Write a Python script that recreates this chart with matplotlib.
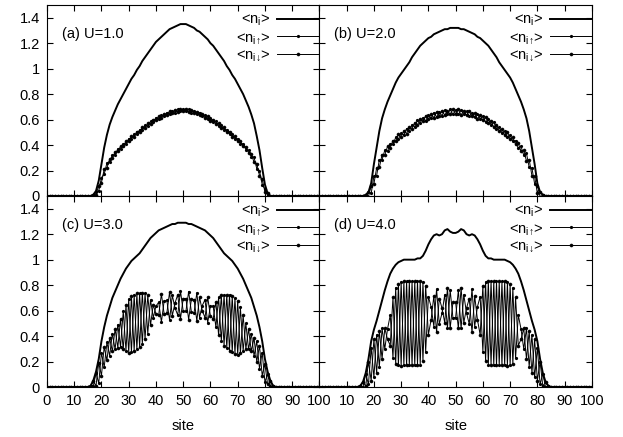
import numpy as np
import matplotlib.pyplot as plt

plt.rcParams['font.family'] = ['Liberation Sans', 'DejaVu Sans']
plt.rcParams['mathtext.fontset'] = 'custom'
plt.rcParams['mathtext.rm'] = 'Liberation Sans'
plt.rcParams['mathtext.it'] = 'Liberation Sans:italic'
plt.rcParams['font.size'] = 10

site = np.arange(101)

# <n_i>, one value per site 0..100
n_a = [0.0]*17 + [0.01, 0.04, 0.12, 0.25, 0.38, 0.48, 0.56, 0.62, 0.67, 0.72,
                  0.76, 0.80, 0.84, 0.88, 0.92, 0.95, 0.99, 1.02, 1.06, 1.09,
                  1.12, 1.15, 1.18, 1.21, 1.23, 1.25, 1.27, 1.29, 1.31, 1.32,
                  1.33, 1.34, 1.35,
                  1.35, 1.35, 1.34, 1.33, 1.32, 1.30, 1.29, 1.27, 1.25, 1.23,
                  1.20, 1.18, 1.15, 1.12, 1.09, 1.06, 1.02, 0.99, 0.95, 0.92,
                  0.88, 0.84, 0.80, 0.75, 0.70, 0.64, 0.57, 0.47, 0.36, 0.22,
                  0.09, 0.02, 0.0] + [0.0]*18
n_b = [0.0]*17 + [0.01, 0.03, 0.10, 0.25, 0.38, 0.51, 0.61, 0.68, 0.74, 0.79,
                  0.84, 0.89, 0.93, 0.96, 0.99, 1.02, 1.05, 1.09, 1.12, 1.15,
                  1.18, 1.20, 1.22, 1.24, 1.25, 1.27, 1.28, 1.29, 1.30, 1.31,
                  1.31, 1.32, 1.32,
                  1.32, 1.32, 1.31, 1.31, 1.30, 1.29, 1.28, 1.27, 1.25, 1.24,
                  1.22, 1.20, 1.18, 1.15, 1.12, 1.09, 1.05, 1.02, 0.99, 0.96,
                  0.93, 0.89, 0.84, 0.79, 0.74, 0.68, 0.61, 0.51, 0.38, 0.25,
                  0.10, 0.03, 0.01] + [0.0]*18
n_c = [0.0]*16 + [0.01, 0.05, 0.12, 0.22, 0.36, 0.47, 0.56, 0.63, 0.70, 0.75,
                  0.80, 0.85, 0.89, 0.93, 0.96, 0.99, 1.01, 1.03, 1.05, 1.08,
                  1.11, 1.14, 1.17, 1.19, 1.21, 1.23, 1.24, 1.25, 1.26, 1.27,
                  1.28, 1.28, 1.29, 1.29,
                  1.29, 1.29, 1.28, 1.28, 1.27, 1.26, 1.25, 1.24, 1.23, 1.21,
                  1.19, 1.17, 1.14, 1.11, 1.08, 1.05, 1.03, 1.01, 0.99, 0.96,
                  0.93, 0.89, 0.85, 0.80, 0.75, 0.70, 0.63, 0.56, 0.47, 0.36,
                  0.22, 0.12, 0.05, 0.01] + [0.0]*17
n_d = [0.0]*15 + [0.01, 0.04, 0.11, 0.22, 0.36, 0.45, 0.52, 0.60, 0.68, 0.76,
                  0.83, 0.89, 0.93, 0.96, 0.98, 0.99, 1.00, 1.00, 1.00, 1.00,
                  1.00, 1.01, 1.01, 1.03, 1.07, 1.12, 1.16, 1.19, 1.20, 1.19,
                  1.20, 1.23, 1.24, 1.22, 1.21,
                  1.21, 1.22, 1.24, 1.23, 1.20, 1.19, 1.20, 1.19, 1.16, 1.12,
                  1.07, 1.03, 1.01, 1.01, 1.00, 1.00, 1.00, 1.00, 1.00, 0.99,
                  0.98, 0.96, 0.93, 0.89, 0.83, 0.76, 0.68, 0.60, 0.52, 0.45,
                  0.36, 0.22, 0.11, 0.04, 0.01] + [0.0]*16

# local spin sz = (<n_i up> - <n_i down>) / 2
sz_a = [0.0]*18 + [0.01, -0.02, 0.02, -0.02, 0.02, -0.01,
                   0.01, -0.01, 0.01, -0.01, 0.01, -0.01, 0.01, -0.01, 0.01, -0.01,
                   0.01, -0.01, 0.01, -0.01, 0.01, -0.01, 0.01, -0.01, 0.01, -0.01,
                   0.01, -0.01, 0.01, -0.01, 0.01, -0.01, 0.01, -0.01, 0.01, -0.01,
                   0.01, -0.01, 0.01, -0.01, 0.01, -0.01, 0.01, -0.01, 0.01, -0.01,
                   0.01, -0.01, 0.01, -0.01, 0.01, -0.01, 0.01, -0.01, 0.01, -0.01,
                   0.01, -0.01, 0.02, -0.02, 0.02, -0.02, 0.01, -0.01] + [0.0]*19
sz_b = [0.0]*18 + [0.02, -0.03, 0.03, -0.03, 0.03, -0.02, 0.02, -0.02, 0.015,
                   -0.015, 0.015, -0.02, 0.015, -0.015, 0.02, -0.015, 0.015, -0.015, 0.02,
                   -0.015, 0.015, -0.02, 0.015, -0.015, 0.02, -0.02, 0.015, -0.02, 0.02,
                   -0.015, 0.02, -0.02, 0.015, -0.02, 0.02, -0.015, 0.015, -0.02, 0.015,
                   -0.015, 0.02, -0.015, 0.015, -0.02, 0.015, -0.015, 0.02, -0.015, 0.015,
                   -0.015, 0.015, -0.02, 0.015, -0.015, 0.015,
                   -0.02, 0.02, -0.02, 0.03, -0.03, 0.03, -0.03, 0.03, -0.02] + [0.0]*19
sz_c = [0.0]*17 + [-0.02, 0.05, -0.08, 0.09, -0.08, 0.07, -0.07, 0.07, -0.08, 0.09,
                   -0.11, 0.15, -0.18, 0.21, -0.22, 0.22, -0.22, 0.21, -0.20, 0.18,
                   -0.15, 0.10, -0.05, 0.03, 0.05, -0.11, 0.05, 0.05, -0.11, 0.08,
                   -0.02, -0.08, 0.11, -0.05, -0.05, 0.11, -0.05, -0.05, 0.11, -0.08,
                   0.02, 0.07, -0.10, 0.04, 0.05, -0.10, 0.15, -0.18, 0.20, -0.21,
                   0.22, -0.22, 0.22, -0.21, 0.18, -0.14, 0.10, -0.08, 0.07, -0.07,
                   0.08, -0.09, 0.09, -0.07, 0.04, -0.02] + [0.0]*18
sz_d = [0.0]*16 + [-0.02, 0.05, -0.09, 0.13, -0.15, 0.15, -0.14, 0.12, -0.08, 0.04,
                   0.12, -0.24, 0.30, -0.32, 0.33, -0.33, 0.33, -0.33, 0.33, -0.33,
                   0.33, -0.33, 0.31, -0.26, 0.15, 0.05, -0.12, 0.17, -0.10, -0.02,
                   0.11, -0.16, 0.15, -0.06, -0.06, 0.15, -0.16, 0.11, -0.02, -0.10,
                   0.17, -0.12, 0.05, 0.15, -0.26, 0.31, -0.33, 0.33, -0.33, 0.33,
                   -0.33, 0.33, -0.33, 0.33, -0.32, 0.30, -0.24, 0.12, 0.04, -0.08,
                   0.12, -0.14, 0.15, -0.15, 0.13, -0.09, 0.05, -0.02] + [0.0]*17

titles = ['(a) U=1.0', '(b) U=2.0', '(c) U=3.0', '(d) U=4.0']
xticks = [0, 10, 20, 30, 40, 50, 60, 70, 80, 90, 100]
yticks = [0, 0.2, 0.4, 0.6, 0.8, 1, 1.2, 1.4]

fig, axes = plt.subplots(2, 2, figsize=(6.23, 4.37), dpi=100)
fig.subplots_adjust(left=0.0754, right=0.950, top=0.9886, bottom=0.1144,
                    wspace=0, hspace=0)

data = [(n_a, sz_a), (n_b, sz_b), (n_c, sz_c), (n_d, sz_d)]
for k, ax in enumerate(axes.flat):
    n = np.array(data[k][0])
    sz = np.array(data[k][1])
    up = n/2 + sz
    dn = n/2 - sz
    ax.plot(site, n, color='black', lw=1.4, label=r'<n$_\mathregular{i}$>')
    ax.plot(site, up, color='black', lw=0.7, marker='o', ms=1.3,
            label=r'<n$_\mathregular{i↑}$>')
    ax.plot(site, dn, color='black', lw=0.7, marker='o', ms=2.2, mew=0.4,
            label=r'<n$_\mathregular{i↓}$>')
    ax.set_xlim(0, 100)
    ax.set_ylim(0, 1.5)
    ax.set_xticks(xticks)
    ax.set_yticks(yticks)
    ax.tick_params(direction='in', top=True, right=True, length=4, width=0.8,
                   labelsize=10.5, pad=5)
    ax.text(0.055, 0.85, titles[k], transform=ax.transAxes, va='center',
            fontsize=10.5)
    ax.legend(loc='upper right', bbox_to_anchor=(1.0, 0.96), frameon=False,
              markerfirst=False, borderaxespad=0, borderpad=0,
              handlelength=2.9, handletextpad=0.45, labelspacing=0.15,
              fontsize=10.5)
    col = k % 2
    row = k // 2
    if row == 0:
        ax.tick_params(labelbottom=False)
    else:
        ax.set_xlabel('site', fontsize=10.5, labelpad=8)
        if col == 1:
            ax.set_xticklabels([''] + [str(t) for t in xticks[1:]])
        else:
            ax.set_xticklabels([str(t) for t in xticks])
    if col == 1:
        ax.tick_params(labelleft=False)
    else:
        ax.set_yticklabels(['%g' % t for t in yticks])

fig.savefig('out.png', dpi=100)
